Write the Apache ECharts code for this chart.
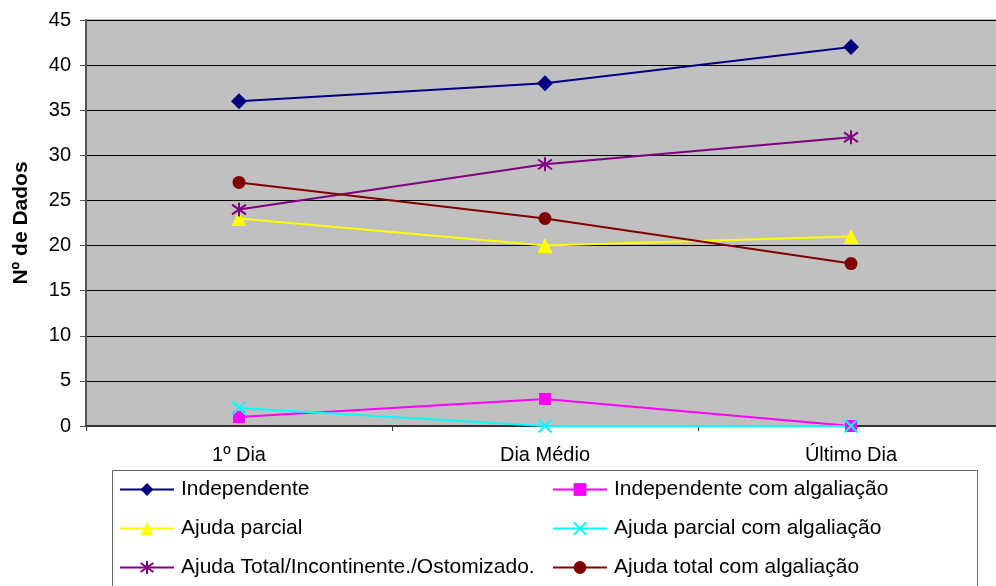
<!DOCTYPE html>
<html><head><meta charset="utf-8">
<script src="https://cdn.jsdelivr.net/npm/echarts@6/dist/echarts.min.js"></script>
<style>html,body{margin:0;padding:0;background:#fff;overflow:hidden;width:996px;height:586px}#c{width:1004px;height:586px}</style>
</head><body><div id="c"></div>
<script>
const categories = ['1º Dia', 'Dia Médio', 'Último Dia'];
const independente = [36, 38, 42];
const independenteAlg = [1, 3, 0];
const ajudaParcial = [23, 20, 21];
const ajudaParcialAlg = [2, 0, 0];
const ajudaTotal = [24, 29, 32];
const ajudaTotalAlg = [27, 23, 18];
const names = ['Independente', 'Independente com algaliação', 'Ajuda parcial', 'Ajuda parcial com algaliação', 'Ajuda Total/Incontinente./Ostomizado.', 'Ajuda total com algaliação'];
const yTicks = [0, 5, 10, 15, 20, 25, 30, 35, 40, 45];

const FONT = 'Liberation Sans, Arial, sans-serif';
const chart = echarts.init(document.getElementById('c'), null, {renderer: 'canvas'});

function mk(name, data, color, symbol, size, stroke) {
  return {
    name, type: 'line', data, symbol, symbolSize: size,
    lineStyle: {color, width: 2},
    itemStyle: stroke ? {color: 'rgba(0,0,0,0)', borderColor: color, borderWidth: 2} : {color},
    emphasis: {disabled: true}, z: 3
  };
}

const legendCommon = {
  orient: 'vertical', itemWidth: 54, itemHeight: 16, itemGap: 18, padding: 0, height: 104,
  textStyle: {fontFamily: FONT, fontSize: 21, lineHeight: 20, color: '#000', padding: [0, 0, 0, 2]},
  selectedMode: false
};

chart.setOption({
  animation: false,
  backgroundColor: '#fff',
  grid: {left: 86, top: 20, width: 918, height: 406, show: true, backgroundColor: '#C0C0C0', borderColor: '#808080', borderWidth: 1},
  xAxis: {
    type: 'category', data: categories, boundaryGap: true,
    axisLine: {lineStyle: {color: '#333', width: 2}},
    axisTick: {show: true, length: 5, lineStyle: {color: '#333'}},
    axisLabel: {fontFamily: FONT, fontSize: 20, color: '#000', margin: 19}
  },
  yAxis: {
    type: 'value', min: yTicks[0], max: yTicks[yTicks.length - 1], interval: 5,
    name: 'Nº de Dados', nameLocation: 'middle', nameGap: 54, nameRotate: 90,
    nameTextStyle: {fontFamily: FONT, fontSize: 21, fontWeight: 'bold', color: '#000'},
    axisLine: {show: true, lineStyle: {color: '#555', width: 2}},
    axisTick: {show: true, inside: false, length: 6, lineStyle: {color: '#555'}},
    axisLabel: {fontFamily: FONT, fontSize: 20, color: '#000', margin: 15},
    splitLine: {lineStyle: {color: '#000', width: 1}}
  },
  legend: [
    Object.assign({left: 119, top: 479, data: [names[0], names[2], names[4]]}, legendCommon),
    Object.assign({left: 552, top: 479, data: [names[1], names[3], names[5]]}, legendCommon)
  ],
  graphic: [{
    type: 'rect', shape: {x: 112.5, y: 470.5, width: 865, height: 130},
    style: {fill: 'none', stroke: '#666', lineWidth: 1}, z: -1
  }],
  series: [
    mk(names[0], independente, '#000080', 'diamond', 16),
    mk(names[1], independenteAlg, '#FF00FF', 'rect', 12),
    mk(names[2], ajudaParcial, '#FFFF00', 'triangle', 15),
    mk(names[3], ajudaParcialAlg, '#00FFFF', 'path://M0,0L10,10M10,0L0,10', 13, true),
    mk(names[4], ajudaTotal, '#800080', 'path://M5,0L5,10M0,1.5L10,8.5M10,1.5L0,8.5', 14, true),
    mk(names[5], ajudaTotalAlg, '#800000', 'circle', 13)
  ]
});
</script></body></html>
